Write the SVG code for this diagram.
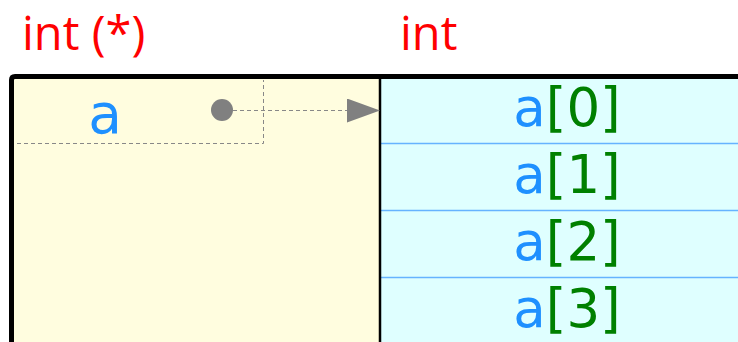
<svg xmlns="http://www.w3.org/2000/svg" width="738" height="342" viewBox="0 0 738 342">
<style>
.type{font-family:"Open Sans","Liberation Sans",sans-serif;font-size:47px;fill:#ff0000}
.lbl{font-family:"DejaVu Sans",sans-serif;font-size:53px}
.lblp{font-family:"DejaVu Sans",sans-serif;font-size:55px}
.blue{fill:#1e90ff}
.green{fill:#008000}
.sep{stroke:#66b3ff;stroke-width:1.5}
.dash{stroke:#888;stroke-width:1;stroke-dasharray:4 3;fill:none}
</style>
<defs>
<marker id="arr" viewBox="0 0 10 10" refX="10" refY="5" markerWidth="33" markerHeight="24" markerUnits="userSpaceOnUse" orient="auto" preserveAspectRatio="none">
<path d="M0,0 L10,5 L0,10 z" fill="#808080"/>
</marker>
</defs>
<text class="type" x="22" y="50">int (*)</text>
<text class="type" x="400" y="50">int</text>
<g id="pointer">
<rect x="12" y="77" width="368" height="270" fill="#fffddf"/>
<text class="lblp blue" x="105" y="133" text-anchor="middle">a</text>
</g>
<g id="array">
<rect x="380" y="77" width="370" height="270" fill="#dfffff"/>
<line class="sep" x1="381" y1="143.5" x2="738" y2="143.5"/>
<line class="sep" x1="381" y1="210.5" x2="738" y2="210.5"/>
<line class="sep" x1="381" y1="277.5" x2="738" y2="277.5"/>
<text class="lbl" x="567" y="126" text-anchor="middle"><tspan class="blue">a</tspan><tspan class="green">[0]</tspan></text>
<text class="lbl" x="567" y="193" text-anchor="middle"><tspan class="blue">a</tspan><tspan class="green">[1]</tspan></text>
<text class="lbl" x="567" y="260" text-anchor="middle"><tspan class="blue">a</tspan><tspan class="green">[2]</tspan></text>
<text class="lbl" x="567" y="327" text-anchor="middle"><tspan class="blue">a</tspan><tspan class="green">[3]</tspan></text>
</g>
<g id="frame">
<line x1="380" y1="77" x2="380" y2="342" stroke="#000" stroke-width="2.5"/>
<path d="M11.5,342 V80 Q11.5,76.5 15,76.5 H738" fill="none" stroke="#000" stroke-width="5"/>
</g>
<g id="connectors">
<path class="dash" d="M17,143.5 H263.5 V80"/>
<circle cx="222" cy="110" r="11" fill="#808080"/>
<line class="dash" x1="233" y1="110.5" x2="380" y2="110.5" marker-end="url(#arr)"/>
</g>
</svg>
